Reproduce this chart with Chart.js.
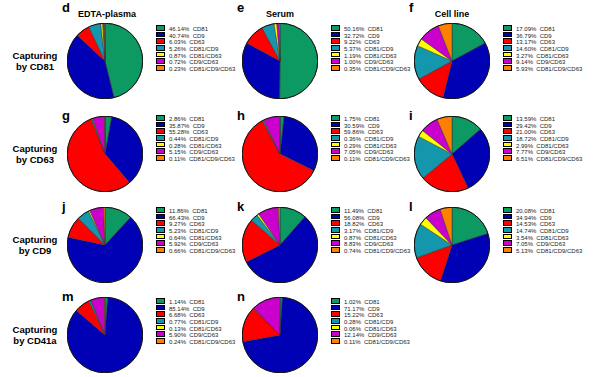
<!DOCTYPE html>
<html>
<head>
<meta charset="utf-8">
<script src="https://cdn.jsdelivr.net/npm/chart.js@4"></script>
<style>
  body { margin: 0; background: #fff; font-family: "Liberation Sans", Arial, sans-serif; }
  #wrap { position: relative; width: 600px; height: 377px; overflow: hidden; }
  canvas { position: absolute; }
  .letter { position: absolute; font-weight: bold; font-size: 13px; line-height: 13px; }
  .coltitle { position: absolute; font-weight: bold; font-size: 9px; line-height: 10px; width: 100px; text-align: center; }
  .rowtitle { position: absolute; font-weight: bold; font-size: 9.5px; line-height: 11px; width: 70px; text-align: center; left: -4px; }
  .legend { position: absolute; font-size: 6px; line-height: 6.7px; color: #222; }
  .legend div { white-space: pre; height: 6.7px; }
  .legend span.box { display: inline-block; width: 7px; height: 3.5px; border: 0.6px solid #000; margin-right: 4px; vertical-align: 0.5px; }
</style>
</head>
<body>
<div id="wrap"></div>
<script>
const categories = ['CD81', 'CD9', 'CD63', 'CD81/CD9', 'CD81/CD63', 'CD9/CD63', 'CD81/CD9/CD63'];
const colors = ['#0d9a62', '#0000b4', '#ff0000', '#1497ad', '#ffff00', '#cc00cc', '#ff8000'];

const columnTitles = ['EDTA-plasma', 'Serum', 'Cell line'];
const rowTitles = ['Capturing\nby CD81', 'Capturing\nby CD63', 'Capturing\nby CD9', 'Capturing\nby CD41a'];

const panelLetters = ['d', 'e', 'f', 'g', 'h', 'i', 'j', 'k', 'l', 'm', 'n'];

const panelD = [46.14, 40.74, 6.03, 5.26, 0.87, 0.72, 0.23];
const panelE = [50.16, 32.72, 9.22, 5.37, 1.19, 1.00, 0.35];
const panelF = [17.09, 36.79, 13.17, 14.60, 3.27, 9.14, 5.93];
const panelG = [2.86, 35.87, 55.28, 0.44, 0.28, 5.15, 0.11];
const panelH = [1.75, 30.59, 59.86, 0.36, 0.29, 7.05, 0.11];
const panelI = [13.59, 29.42, 21.00, 18.72, 2.99, 7.77, 6.51];
const panelJ = [11.86, 66.43, 9.27, 5.23, 0.64, 5.92, 0.66];
const panelK = [11.49, 56.08, 18.82, 3.17, 0.87, 8.83, 0.74];
const panelL = [20.08, 34.94, 14.53, 14.74, 3.54, 7.05, 5.13];
const panelM = [1.14, 85.14, 6.68, 0.77, 0.13, 5.90, 0.24];
const panelN = [1.02, 71.17, 15.22, 0.28, 0.06, 12.14, 0.11];

const panels = [panelD, panelE, panelF, panelG, panelH, panelI, panelJ, panelK, panelL, panelM, panelN];

// layout
const colX = [105, 280, 452];
const rowY = [61, 154, 245, 335];
const legendY = [25, 115, 207, 298];
const R = 37;

const wrap = document.getElementById('wrap');

function addDiv(cls, text, left, top) {
  const d = document.createElement('div');
  d.className = cls;
  d.textContent = text;
  d.style.left = left + 'px';
  d.style.top = top + 'px';
  wrap.appendChild(d);
  return d;
}

columnTitles.forEach((t, i) => addDiv('coltitle', t, colX[i] - 50 + (i == 0 ? 2 : 0), 9));

rowTitles.forEach((t, i) => {
  const d = addDiv('rowtitle', '', 0, rowY[i] - 11);
  d.innerHTML = t.replace('\n', '<br>');
});

panels.forEach((values, idx) => {
  const row = Math.floor(idx / 3);
  const col = idx % 3;
  const cx = colX[col];
  const cy = rowY[row];

  addDiv('letter', panelLetters[idx], cx - 43, row == 0 ? cy - 60 : cy - R - 8);

  const canvas = document.createElement('canvas');
  const size = R * 2 + 2;
  canvas.width = size;
  canvas.height = size;
  canvas.style.left = (cx - size / 2) + 'px';
  canvas.style.top = (cy - size / 2) + 'px';
  wrap.appendChild(canvas);

  new Chart(canvas.getContext('2d'), {
    type: 'pie',
    data: {
      labels: categories,
      datasets: [{
        data: values,
        backgroundColor: colors,
        borderColor: '#333',
        borderWidth: 0.5
      }]
    },
    options: {
      responsive: false,
      animation: false,
      devicePixelRatio: 1,
      layout: { padding: 0 },
      plugins: { legend: { display: false }, tooltip: { enabled: false } }
    },
    plugins: [{
      id: 'outline',
      afterDraw(chart) {
        const arc = chart.getDatasetMeta(0).data[0];
        const c = chart.ctx;
        c.save();
        c.beginPath();
        c.arc(arc.x, arc.y, arc.outerRadius, 0, Math.PI * 2);
        c.strokeStyle = '#111';
        c.lineWidth = 1;
        c.stroke();
        c.restore();
      }
    }]
  });

  const leg = document.createElement('div');
  leg.className = 'legend';
  leg.style.left = (cx + 51) + 'px';
  leg.style.top = legendY[row] + 'px';
  values.forEach((v, i) => {
    const line = document.createElement('div');
    const box = document.createElement('span');
    box.className = 'box';
    box.style.background = colors[i];
    line.appendChild(box);
    line.appendChild(document.createTextNode(v.toFixed(2) + '%  ' + categories[i]));
    leg.appendChild(line);
  });
  wrap.appendChild(leg);
});
</script>
</body>
</html>
